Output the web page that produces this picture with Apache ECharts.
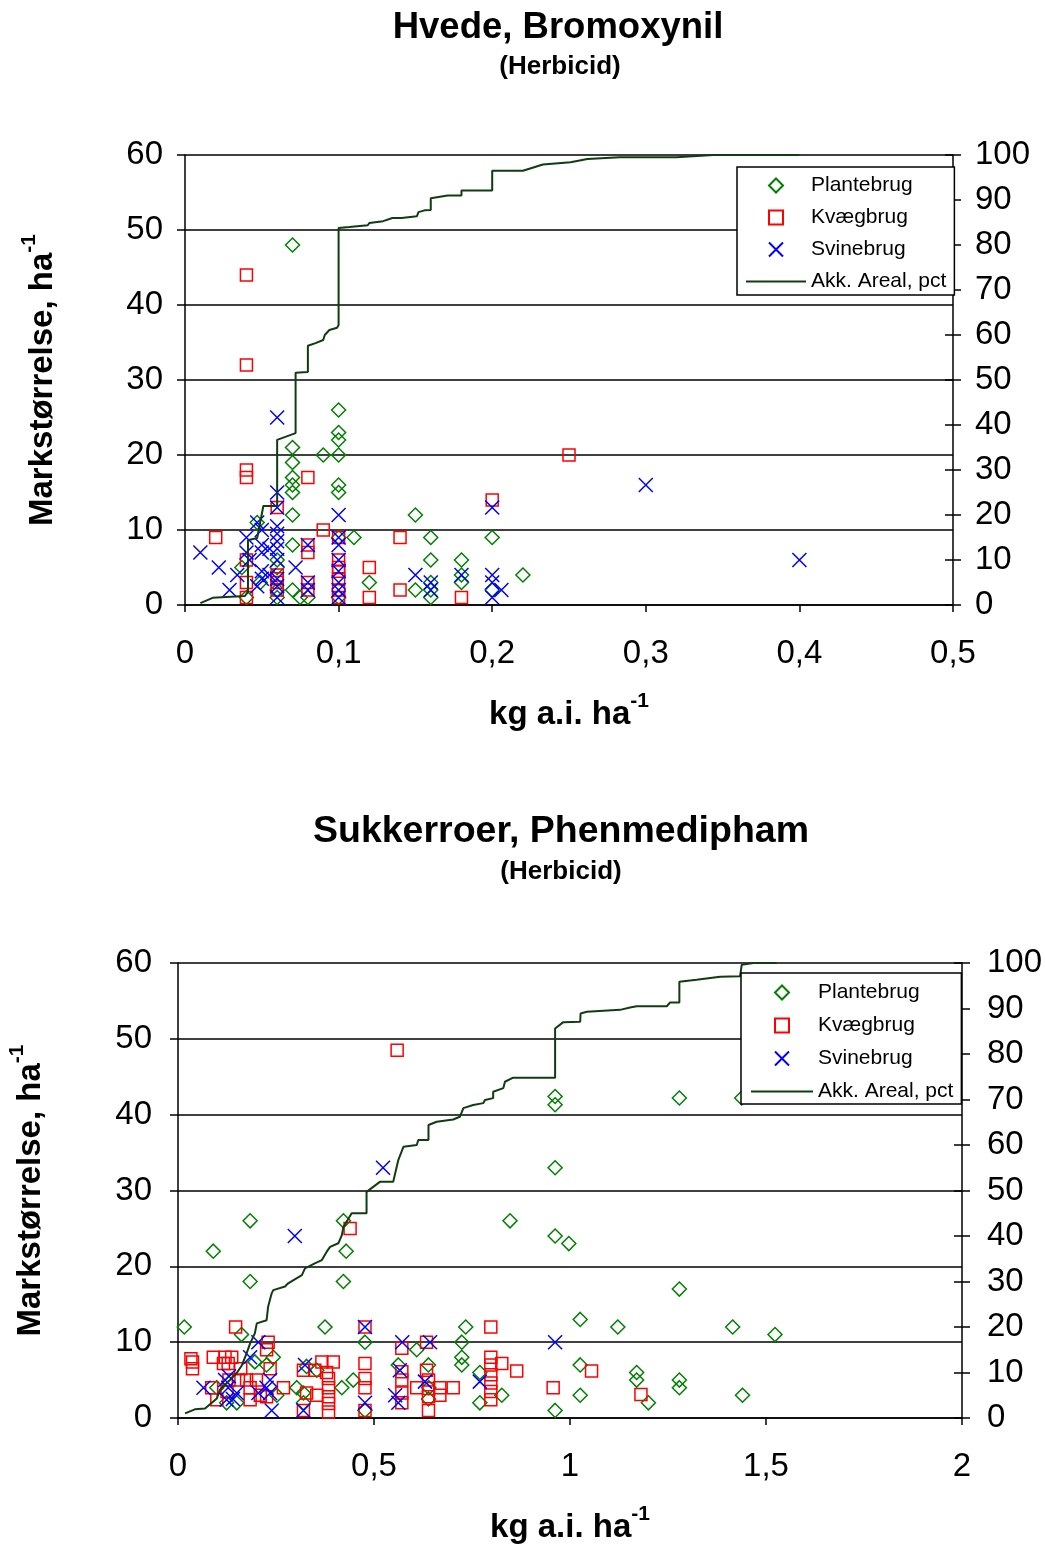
<!DOCTYPE html>
<html>
<head>
<meta charset="utf-8">
<script src="https://cdn.jsdelivr.net/npm/echarts@6/dist/echarts.min.js"></script>
<style>
  html, body { margin: 0; padding: 0; background: #fff; }
  #chart { width: 1045px; height: 1545px; }
</style>
</head>
<body>
<div id="chart"></div>
<script>
// names
const seriesNames = ['Plantebrug', 'Kvægbrug', 'Svinebrug', 'Akk. Areal, pct'];
const titles = ['Hvede, Bromoxynil', 'Sukkerroer, Phenmedipham'];
const subTitle = '(Herbicid)';

// Hvede, Bromoxynil  [kg a.i./ha, markstørrelse ha]
const hvedePlante = [[0.07,48],[0.1,26],[0.1,23],[0.1,22],[0.1,20],[0.09,20],[0.1,16],[0.1,15],[0.07,21],[0.07,19],
  [0.07,17],[0.07,16],[0.07,15],[0.07,12],[0.07,8],[0.047,11],[0.037,5],[0.04,1],[0.049,3],[0.06,6],[0.06,5],[0.06,2],
  [0.07,2],[0.075,1],[0.08,1],[0.1,9],[0.11,9],[0.12,3],[0.15,12],[0.16,9],[0.16,6],[0.15,2],[0.16,3],[0.16,2],[0.16,1],
  [0.18,6],[0.18,4],[0.18,3],[0.2,9],[0.2,2],[0.22,4],[0.1,1],[0.06,1]];
const hvedeKvaeg = [[0.04,44],[0.04,32],[0.04,18],[0.04,17],[0.04,6],[0.04,3],[0.04,1],[0.02,9],[0.06,13],[0.06,4],
  [0.06,3.5],[0.06,3],[0.06,2],[0.08,17],[0.08,8],[0.08,7],[0.08,3],[0.08,2],[0.09,10],[0.1,9],[0.1,6],[0.1,5],[0.1,4.5],
  [0.1,3.5],[0.1,2],[0.1,1],[0.12,5],[0.12,1],[0.14,9],[0.14,2],[0.18,1],[0.2,14],[0.25,20]];
const hvedeSvine = [[0.01,7],[0.022,5],[0.029,2],[0.034,4],[0.04,9],[0.04,7],[0.042,6],[0.047,11],[0.047,2.5],[0.05,10],
  [0.05,8],[0.05,7],[0.05,4.5],[0.05,3.5],[0.055,4],[0.055,7.5],[0.06,25],[0.06,15],[0.06,13],[0.06,10.5],[0.06,9.5],
  [0.06,8.5],[0.06,7.5],[0.06,6],[0.06,3.5],[0.06,2.5],[0.06,1],[0.072,5],[0.08,8],[0.08,3],[0.08,2],[0.1,12],[0.1,9],
  [0.1,8],[0.1,6],[0.1,4.5],[0.1,3],[0.1,2],[0.1,1],[0.15,4],[0.16,3],[0.16,2],[0.18,4],[0.2,13],[0.2,4],[0.2,3],[0.2,1],
  [0.206,2],[0.3,16],[0.4,6]];
const hvedeAreal = [[0.010,0.4],[0.018,1.6],[0.039,2.0],[0.041,2.9],[0.041,14.4],[0.047,14.9],[0.051,22],[0.060,22],
  [0.060,36.7],[0.072,38.2],[0.072,51.6],[0.080,51.8],[0.080,57.6],[0.085,58.2],[0.090,58.9],[0.091,60],[0.094,61.1],
  [0.099,61.6],[0.100,62.2],[0.100,83.8],[0.107,84],[0.119,84.4],[0.120,84.9],[0.129,85.3],[0.135,86],[0.141,86],
  [0.151,86.4],[0.152,87.3],[0.156,87.7],[0.160,87.8],[0.160,90.4],[0.171,91],[0.180,91],[0.180,92.1],[0.200,92.1],
  [0.200,96.5],[0.220,96.5],[0.233,97.9],[0.251,98.4],[0.262,99.1],[0.283,99.5],[0.320,99.5],[0.344,100],[0.400,100]];

// Sukkerroer, Phenmedipham
const roerPlante = [[0.016,12],[0.09,22],[0.184,26],[0.184,18],[0.162,11],[0.375,12],[0.422,26],[0.429,22],[0.422,18],
  [0.477,10],[0.847,26],[0.609,9],[0.639,7],[0.734,12],[0.724,10],[0.724,8],[0.724,7],[0.77,6],[0.826,3],[0.77,2],
  [0.639,2.5],[0.562,7],[0.447,5],[0.418,4],[0.962,42.4],[0.962,41.3],[1.279,42.2],[1.438,42.2],[0.962,33],[0.962,24],
  [0.997,23],[1.279,17],[1.026,13],[1.122,12],[1.415,12],[1.523,11],[1.026,7],[1.17,6],[1.17,5],[1.279,5],[1.279,4],
  [1.026,3],[1.2,2],[1.44,3],[0.962,1],[0.243,8],[0.196,7.4],[0.226,7],[0.303,4],[0.354,6.3],[0.099,4],[0.124,2],
  [0.15,2],[0.252,3],[0.32,3.3],[0.328,6.8],[0.477,1],[0.64,4],[0.32,2]];
const roerKvaeg = [[0.559,48.5],[0.439,25],[0.147,12],[0.23,10],[0.037,7.4],[0.037,6.5],[0.09,8],[0.12,8],[0.137,8],
  [0.116,7.2],[0.128,7.2],[0.226,9],[0.235,6.5],[0.086,4],[0.099,2.4],[0.154,5],[0.175,5],[0.2,5],[0.184,4],[0.184,2.4],
  [0.226,2.8],[0.269,4],[0.32,1],[0.32,6.3],[0.367,7.4],[0.396,7.4],[0.349,6.3],[0.379,6],[0.384,5.2],[0.384,4],
  [0.384,2.8],[0.384,1.9],[0.384,0.8],[0.328,3.3],[0.354,3],[0.477,12],[0.477,7.2],[0.477,5.2],[0.477,4],[0.477,1],
  [0.571,9.2],[0.571,6.1],[0.571,5],[0.571,3.3],[0.571,2],[0.609,4],[0.634,10],[0.634,6.3],[0.639,5],[0.639,3.9],
  [0.639,2.8],[0.639,1],[0.668,4],[0.668,3],[0.702,4],[0.798,12],[0.798,8],[0.798,7],[0.798,5.7],[0.798,4.6],
  [0.798,3.5],[0.798,2.4],[0.826,7.2],[0.864,6.2],[1.055,6.2],[0.957,4],[1.181,3.1],[0.13,5],[0.125,3.5],[0.16,6.5],
  [0.21,3],[0.033,7.8]];
const roerSvine = [[0.523,33],[0.298,24],[0.962,10],[0.572,10],[0.643,10],[0.477,12],[0.205,10],[0.184,8],[0.065,4],
  [0.12,5],[0.128,4],[0.124,2.4],[0.15,3.3],[0.205,3.3],[0.226,4],[0.235,5],[0.239,1],[0.235,3.3],[0.324,7],[0.32,1],
  [0.477,2],[0.566,6.3],[0.554,3],[0.562,2],[0.63,4.8],[0.77,4.8],[0.14,2.5],[0.13,5.5]];
const roerAreal = [[0.018,1.0],[0.043,1.9],[0.069,2.1],[0.099,4.3],[0.107,6.2],[0.133,8.4],[0.150,9.9],[0.163,11.6],
  [0.175,14.2],[0.184,16.4],[0.196,18.6],[0.201,20.8],[0.226,21.5],[0.230,24.5],[0.239,27.4],[0.243,28.1],[0.273,28.9],
  [0.281,29.6],[0.316,31.4],[0.324,32.9],[0.349,34],[0.367,34.7],[0.379,36.5],[0.388,37.6],[0.409,38.4],[0.418,40.2],
  [0.422,42],[0.443,45],[0.481,45],[0.481,49.7],[0.515,51.9],[0.549,51.9],[0.562,56.7],[0.575,59.6],[0.609,60],
  [0.613,61.1],[0.639,61.1],[0.639,64.4],[0.660,65.1],[0.702,65.6],[0.719,66.2],[0.728,68.1],[0.753,68.8],[0.779,69.2],
  [0.783,69.9],[0.804,70.3],[0.804,71.7],[0.830,72.5],[0.834,73.9],[0.855,74.8],[0.962,74.8],[0.962,85.6],[0.983,87.0],
  [1.026,87.1],[1.027,88.9],[1.043,89.3],[1.128,89.7],[1.153,90.2],[1.170,90.5],[1.247,90.5],[1.255,91.3],[1.279,91.3],
  [1.279,95.9],[1.323,96.3],[1.383,97.0],[1.434,97.1],[1.438,99.6],[1.468,100],[1.527,100]];

const font = '"Liberation Sans", Arial, sans-serif';
const black = '#000';
const fmt = v => String(Math.round(v * 100) / 100).replace('.', ',');

// tall line for the main text, small top-aligned token for the exponent
const nameRich = {
  m: { fontSize: 33, fontWeight: 'bold', fontFamily: font, color: black, lineHeight: 48 },
  s: { fontSize: 21, fontWeight: 'bold', fontFamily: font, color: black, lineHeight: 21, verticalAlign: 'top' }
};

function xAx(grid, max, interval) {
  return {
    gridIndex: grid, type: 'value', min: 0, max: max, interval: interval,
    axisLine: { show: true, onZero: false, lineStyle: { color: black, width: 1.5 } },
    axisTick: { show: true, length: 7, lineStyle: { color: black, width: 1.5 } },
    axisLabel: { formatter: fmt, fontSize: 33, color: black, fontFamily: font, margin: 32 },
    splitLine: { show: false },
    name: '{m|kg a.i. ha}{s|-1}', nameLocation: 'middle', nameGap: 86,
    nameTextStyle: { rich: nameRich }
  };
}
function yLeft(grid, gap, margin) {
  return {
    gridIndex: grid, type: 'value', min: 0, max: 60, interval: 10, position: 'left',
    axisLine: { show: true, lineStyle: { color: black, width: 1.5 } },
    axisTick: { show: true, length: 8, lineStyle: { color: black, width: 1.5 } },
    axisLabel: { fontSize: 33, color: black, fontFamily: font, margin: margin },
    splitLine: { show: true, lineStyle: { color: black, width: 1.5 } },
    name: '{m|Markstørrelse, ha}{s|-1}', nameLocation: 'middle', nameRotate: 90, nameGap: gap,
    nameTextStyle: { rich: nameRich }
  };
}
function yRight(grid, inside, margin) {
  return {
    gridIndex: grid, type: 'value', min: 0, max: 100, interval: 10, position: 'right',
    axisLine: { show: !inside, lineStyle: { color: black, width: 1.5 } },
    axisTick: { show: true, inside: inside, length: 8, lineStyle: { color: black, width: 1.5 } },
    axisLabel: { show: !inside, fontSize: 33, color: black, fontFamily: font, margin: margin },
    splitLine: { show: false }
  };
}

// path symbols so the legend keeps their aspect
const diamondMark = 'path://M5,0L10,5L5,10L0,5Z';
const squareMark = 'path://M0,0L10,0L10,10L0,10Z';
const xMark = 'path://M0,0L10,10M10,0L0,10';

function scatter(name, data, xi, yi, symbol, size, color) {
  return {
    name: name, type: 'scatter', xAxisIndex: xi, yAxisIndex: yi, data: data,
    symbol: symbol, symbolSize: size, symbolKeepAspect: true,
    itemStyle: { color: 'rgba(0,0,0,0)', borderColor: color, borderWidth: 1.5, opacity: 1 },
    emphasis: { disabled: true }
  };
}
function areal(data, xi, yi) {
  return {
    name: seriesNames[3], type: 'line', xAxisIndex: xi, yAxisIndex: yi, data: data,
    symbol: 'none', smooth: false, z: 3,
    lineStyle: { color: '#0f3d0f', width: 2 },
    itemStyle: { color: '#0f3d0f' },
    emphasis: { disabled: true }
  };
}

function legendAt(left, top, gap, width, padding) {
  return {
    data: [seriesNames[0], seriesNames[1], seriesNames[2],
      { name: seriesNames[3], itemStyle: { color: 'rgba(0,0,0,0)', borderWidth: 0, opacity: 0 } }],
    orient: 'vertical', left: left, top: top,
    itemWidth: width, itemHeight: 14, itemGap: gap, itemTextGap: 5,
    symbolKeepAspect: true,
    padding: padding, backgroundColor: '#fff', borderColor: black, borderWidth: 1.5,
    textStyle: { fontSize: 21, color: black, fontFamily: font },
    selectedMode: false
  };
}

function titleText(x, y, text, size) {
  return {
    type: 'text', x: x, y: y,
    style: { text: text, font: 'bold ' + size + 'px ' + font, fill: black,
      textAlign: 'center', textVerticalAlign: 'middle', align: 'center', verticalAlign: 'middle' }
  };
}

const chart = echarts.init(document.getElementById('chart'), null, { renderer: 'canvas' });
chart.setOption({
  animation: false,
  backgroundColor: '#fff',
  textStyle: { fontFamily: font },
  graphic: [
    titleText(558, 28, titles[0], 36.5),
    titleText(560, 67, subTitle, 26),
    titleText(561, 832, titles[1], 37.5),
    titleText(561, 872, subTitle, 26)
  ],
  grid: [
    { left: 185, top: 155, width: 768, height: 450, outerBoundsMode: 'none', containLabel: false },
    { left: 178, top: 963, width: 784, height: 455, outerBoundsMode: 'none', containLabel: false }
  ],
  legend: [
    legendAt(737, 167, 11, 60, [8, 8, 3, 8]),
    legendAt(741, 973, 12, 62, [9, 8, 2, 9])
  ],
  xAxis: [xAx(0, 0.5, 0.1), xAx(1, 2, 0.5)],
  yAxis: [yLeft(0, 118, 22), yRight(0, false, 22), yRight(0, true, 22),
          yLeft(1, 123, 26), yRight(1, false, 25), yRight(1, true, 25)],
  series: [
    scatter(seriesNames[0], hvedePlante, 0, 0, diamondMark, 14, '#008000'),
    scatter(seriesNames[1], hvedeKvaeg, 0, 0, squareMark, 12, '#ff0000'),
    scatter(seriesNames[2], hvedeSvine, 0, 0, xMark, 14, '#0000ff'),
    areal(hvedeAreal, 0, 1),
    scatter(seriesNames[0], roerPlante, 1, 3, diamondMark, 14, '#008000'),
    scatter(seriesNames[1], roerKvaeg, 1, 3, squareMark, 12, '#ff0000'),
    scatter(seriesNames[2], roerSvine, 1, 3, xMark, 14, '#0000ff'),
    areal(roerAreal, 1, 4)
  ]
});
</script>
</body>
</html>
